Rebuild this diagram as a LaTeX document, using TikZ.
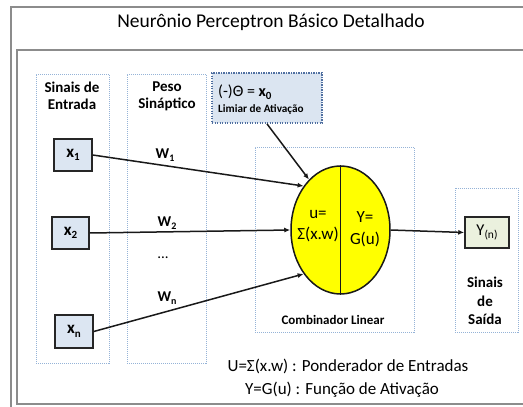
\documentclass[tikz,border=0pt]{standalone}
\usepackage{fontspec}
\setmainfont{Carlito}
\usetikzlibrary{arrows.meta,shapes.geometric}
\definecolor{frameg}{HTML}{8C8C8C}
\definecolor{dotb}{HTML}{95B3D7}
\definecolor{thb}{HTML}{4F6FA0}
\definecolor{thfill}{HTML}{DBE5F1}
\definecolor{infill}{HTML}{DCE6F2}
\definecolor{outfill}{HTML}{EBF1DE}
\definecolor{ellfill}{HTML}{FFFF00}
\newcommand{\sbx}[2]{\raisebox{-0.4ex}{\fontsize{#1}{#1}\selectfont #2}}
\begin{document}
\begin{tikzpicture}[x=1pt,y=-1pt,
  colbox/.style={draw=dotb, line width=1pt, dash pattern=on 1pt off 1pt, inner sep=0pt},
  thbox/.style={draw=thb, fill=thfill, line width=1.8pt, dash pattern=on 1.4pt off 1.1pt, inner sep=0pt},
  inbox/.style={draw=black!85, fill=infill, line width=1.5pt, inner sep=0pt, font=\bfseries\fontsize{17}{17}\selectfont},
  outbox/.style={draw=black!85, fill=outfill, line width=1.5pt, inner sep=0pt, font=\fontsize{16.5}{16.5}\selectfont},
  head/.style={align=center, font=\bfseries\fontsize{15}{17}\selectfont, inner sep=0pt},
  wlab/.style={font=\bfseries\fontsize{15}{15}\selectfont, inner sep=0pt},
  edge/.style={draw=black!90, line width=1.5pt, -{Latex[length=6pt,width=5pt]}},
  plain/.style={inner sep=0pt, font=\fontsize{17}{17}\selectfont}
]
\useasboundingbox (0,0) rectangle (523,407);
\clip (0,0) rectangle (523,407);
\fill[white] (0,0) rectangle (523,407);
\draw[frameg, line width=2pt] (11,7) rectangle (545,425);
\draw[frameg, line width=2pt] (17,50) rectangle (545,404);

\node[plain, font=\fontsize{19.5}{19.5}\selectfont] (title) at (271,22) {Neurônio Perceptron Básico Detalhado};

% column boxes
\node[colbox, minimum width=73pt, minimum height=289pt] (colin) at (72.5,218.5) {};
\node[colbox, minimum width=79pt, minimum height=289pt] (colw) at (166.5,218.5) {};
\node[colbox, minimum width=159pt, minimum height=185pt] (comb) at (334.5,239.5) {};
\node[colbox, minimum width=63pt, minimum height=144pt] (colout) at (486.5,260) {};

\node[head] (hin) at (72,96) {Sinais de\\Entrada};
\node[head] (hw) at (167,96) {Peso\\Sináptico};

% threshold
\node[thbox, minimum width=110pt, minimum height=50pt] (th) at (267,98) {};
\node[inner sep=0pt, anchor=west, font=\fontsize{16}{16}\selectfont] (tht) at (218,92) {(-)Θ = \textbf{x\sbx{11}{0}}};
\node[inner sep=0pt, anchor=west, font=\bfseries\fontsize{11.2}{11.2}\selectfont] (thl) at (218,110) {Limiar de Ativação};

% inputs
\node[inbox, minimum width=38pt, minimum height=32pt] (x1) at (73,155) {x\sbx{11}{1}};
\node[inbox, minimum width=37pt, minimum height=32pt] (x2) at (70.5,233) {x\sbx{11}{2}};
\node[inbox, minimum width=38pt, minimum height=33pt] (xn) at (74,331.5) {x\sbx{11}{n}};

% neuron
\node[ellipse, draw=black!90, fill=ellfill, line width=1.5pt, minimum width=99pt, minimum height=128pt, inner sep=0pt] (ell) at (340.5,230) {};
\draw[black!90, line width=1.5pt] (ell.north) -- (ell.south);
\node[align=center, inner sep=0pt, font=\fontsize{17}{21}\selectfont] (u) at (318,226) {u=\\Σ(x.w)};
\node[align=center, inner sep=0pt, font=\fontsize{17}{22}\selectfont] (yg) at (365,229) {Y=\\G(u)};
\node[inner sep=0pt, font=\bfseries\fontsize{13}{13}\selectfont] (cl) at (333,320) {Combinador Linear};

% output
\node[outbox, minimum width=44pt, minimum height=31pt] (y) at (487,232.5) {Y\sbx{11.5}{(n)}};
\node[head, font=\bfseries\fontsize{15}{18.5}\selectfont] (hout) at (485,301) {Sinais\\de\\Saída};

% weights
\node[wlab] (w1) at (165,155) {W\sbx{10}{1}};
\node[wlab] (w2) at (167,223) {W\sbx{10}{2}};
\node[plain, font=\fontsize{15}{15}\selectfont] (dots) at (163,258) {...};
\node[wlab] (wn) at (167,298) {W\sbx{10}{n}};

% connectors
\draw[edge] (x1.east) -- (ell.130);
\draw[edge] (x2.east) -- (ell.180);
\draw[edge] (xn.east) -- (ell.230);
\draw[edge] (th.south) -- (ell.122);
\draw[edge] (ell.east) -- (y.west);

% legend
\node[plain] (leg1) at (348,366) {U=Σ(x.w) : Ponderador de Entradas};
\node[plain] (leg2) at (342,390) {Y=G(u) : Função de Ativação};
\end{tikzpicture}
\end{document}
